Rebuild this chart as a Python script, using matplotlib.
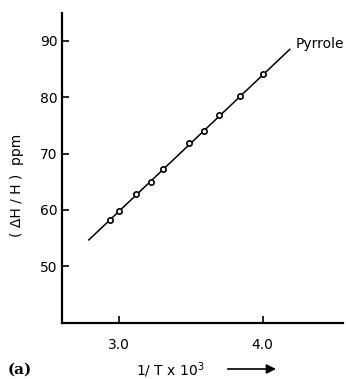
import numpy as np
import matplotlib
matplotlib.use('Agg')
import matplotlib.pyplot as plt

# Data
inv_t = [2.94, 3.00, 3.12, 3.22, 3.305, 3.49, 3.59, 3.70, 3.84, 4.00]
shift = [58.3, 59.9, 62.9, 65.0, 67.2, 71.8, 74.0, 76.9, 80.3, 84.1]
fit_x = [2.79, 4.19]
fit_y = [54.7, 88.5]
x_ticks = [3.0, 4.0]
y_ticks = [50, 60, 70, 80, 90]

plt.rcParams['font.family'] = ['DejaVu Sans']

fig = plt.figure(figsize=(3.46, 3.79), dpi=100)
ax = fig.add_axes([0.178, 0.1485, 0.813, 0.818])

# Fitted line and measured points
ax.plot(fit_x, fit_y, color='k', lw=1.1)
ax.plot(inv_t, shift, 'o', ms=3.8, mfc='white', mec='k', mew=1.2)
ax.text(4.232, 89.4, 'Pyrrole', ha='left', va='center', fontsize=10, clip_on=False)

ax.set_xlim(2.6, 4.56)
ax.set_ylim(40, 95)
ax.set_xticks(x_ticks)
ax.set_xticklabels(['3.0', '4.0'])
ax.set_yticks(y_ticks)

for s in ['top', 'right']:
    ax.spines[s].set_visible(False)
for s in ['left', 'bottom']:
    ax.spines[s].set_linewidth(1.6)

ax.tick_params(axis='both', direction='in', length=5, width=1.2, labelsize=10)
ax.tick_params(axis='x', pad=11)
ax.tick_params(axis='y', pad=3)

# Labels
fig.text(0.048, 0.512, '( ΔH / H )  ppm', rotation=90, ha='center', va='center', fontsize=10)
fig.text(0.491, 0.008, r'1/ T x 10$^3$', ha='center', va='baseline', fontsize=10)
fig.text(0.023, 0.013, '(a)', ha='left', va='baseline', fontsize=11,
         family='DejaVu Serif', fontweight='bold')
fig.add_artist(matplotlib.patches.FancyArrowPatch((0.650, 0.0264), (0.806, 0.0264),
               transform=fig.transFigure, arrowstyle='-|>', mutation_scale=14,
               lw=1.2, color='k'))

plt.savefig('out.png', dpi=100)
